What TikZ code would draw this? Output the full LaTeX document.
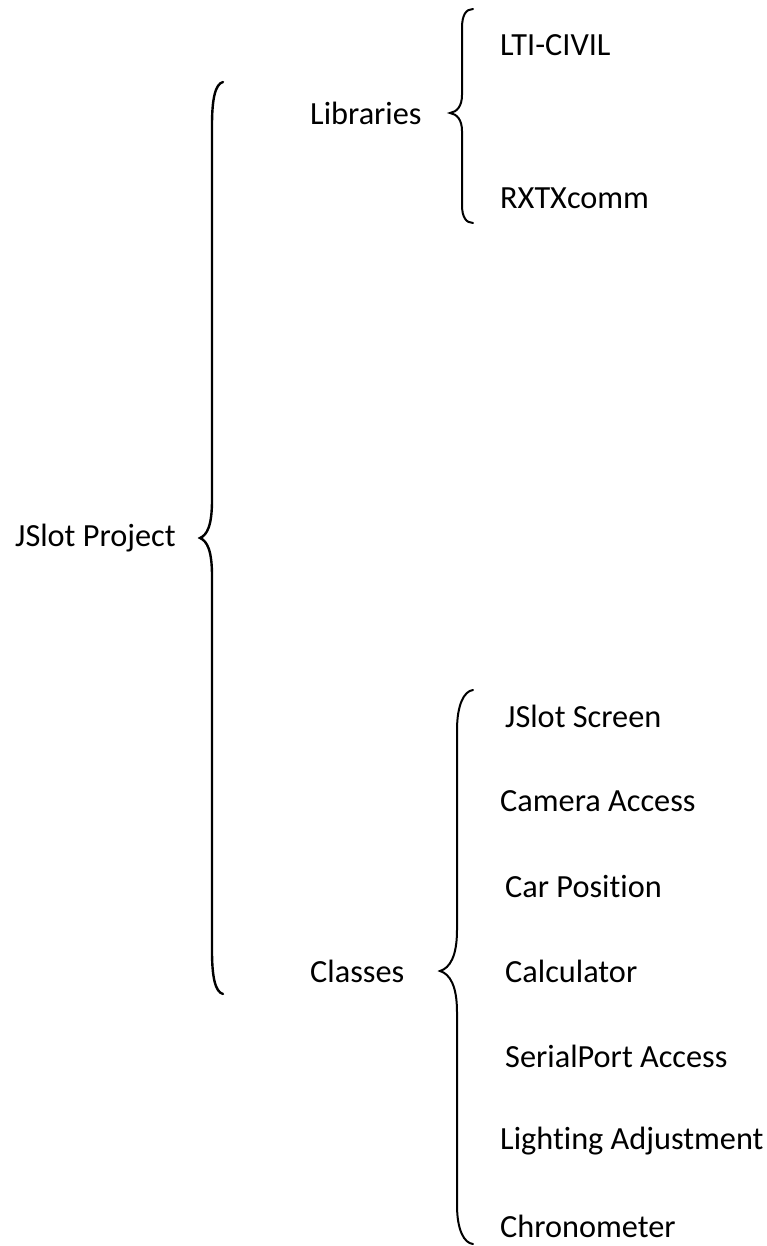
\documentclass[tikz,border=0pt]{standalone}
\usepackage{fontspec}
\setmainfont[Ligatures={NoCommon}]{Carlito}
\begin{document}
\begin{tikzpicture}[x=1pt,y=-1pt,
  lbl/.style={anchor=west,inner sep=0pt,font=\fontsize{32.3}{38}\selectfont},
  brace/.style={line width=2pt,line cap=round}]
\useasboundingbox (0,0) rectangle (766,1246);

% root and first level
\node[lbl] (root) at (15,538) {JSlot Project};
\node[lbl] (lib) at (310,113) {Libraries};
\node[lbl] (cls) at (310,971) {Classes};

% libraries
\node[lbl] (lti) at (500,45) {LTI-CIVIL};
\node[lbl] (rxtx) at (500,198) {RXTXcomm};

% classes
\node[lbl] (c1) at (505,716) {JSlot Screen};
\node[lbl] (c2) at (500,801) {Camera Access};
\node[lbl] (c3) at (505,886) {Car Position};
\node[lbl] (c4) at (505,971) {Calculator};
\node[lbl] (c5) at (505,1056) {SerialPort Access};
\node[lbl] (c6) at (500,1141) {Lighting Adjustment};
\node[lbl] (c7) at (500,1226) {Chronometer};

% main brace
\coordinate (mt) at (223,82);
\coordinate (mm) at (200,538);
\coordinate (mb) at (223,994);
\draw[brace,line width=2.4pt] (mt) .. controls (215,84) and (212,100) .. (212,125)
  -- (212,500) .. controls (212,526) and (207,535) .. (mm)
  .. controls (207,541) and (212,550) .. (212,576)
  -- (212,951) .. controls (212,976) and (215,992) .. (mb);

% libraries brace
\coordinate (lt) at (473,9);
\coordinate (lm) at (450,113);
\coordinate (lb) at (473,223);
\draw[brace] (lt) .. controls (466,9) and (462,15) .. (462,28)
  -- (462,95) .. controls (462,106) and (457,112) .. (lm)
  .. controls (457,114) and (462,120) .. (462,131)
  -- (462,205) .. controls (462,217) and (466,223) .. (lb);

% classes brace
\coordinate (kt) at (473,690);
\coordinate (km) at (440,971);
\coordinate (kb) at (473,1244);
\draw[brace] (kt) .. controls (464,691) and (457,705) .. (457,730)
  -- (457,930) .. controls (457,956) and (450,968) .. (km)
  .. controls (450,974) and (457,986) .. (457,1012)
  -- (457,1205) .. controls (457,1230) and (464,1243) .. (kb);
\end{tikzpicture}
\end{document}
